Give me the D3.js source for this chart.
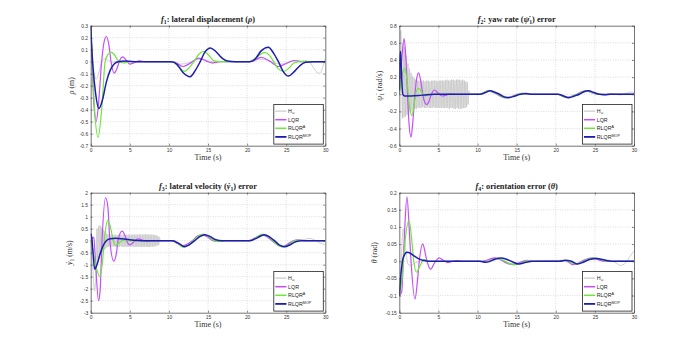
<!DOCTYPE html>
<html><head><meta charset="utf-8">
<script src="https://cdn.jsdelivr.net/npm/d3@7"></script>
<style>body{margin:0;background:#fff}svg{display:block}</style>
</head><body>
<svg id="c" width="700" height="352"></svg>
<script>
// ---------------- DATA ----------------
const timeTicks = [0, 5, 10, 15, 20, 25, 30];
const p1Ticks = [-0.7, -0.6, -0.5, -0.4, -0.3, -0.2, -0.1, 0, 0.1, 0.2, 0.3];
const p2Ticks = [-0.6, -0.4, -0.2, 0, 0.2, 0.4, 0.6, 0.8];
const p3Ticks = [-3, -2.5, -2, -1.5, -1, -0.5, 0, 0.5, 1, 1.5, 2];
const p4Ticks = [-0.15, -0.1, -0.05, 0, 0.05, 0.1, 0.15, 0.2];
const seriesNames = ["Hinf", "LQR", "RLQR^A", "RLQR^MOP"];

// f1: lateral displacement  [time (s), value (m)]
const p1Hinf = [[0,0.3],[0.2,0.05],[0.45,-0.1],[0.72,-0.147],[1.0,-0.1],[1.4,0],[1.8,0.025],[2.3,0.01],[2.8,-0.005],[3.5,0.005],[4.5,0],[10.5,0],[11.5,-0.02],[12.5,-0.01],[13.5,0.015],[14.3,0.02],[15.2,0.005],[16,0],[20.5,0],[21.5,0.02],[22.5,0.015],[23.5,-0.01],[24.3,-0.02],[25.2,-0.01],[26.3,0.01],[27,0.006],[27.5,0.01],[28.2,-0.02],[28.8,-0.08],[29.3,-0.097],[29.7,-0.04],[30,0.028]];
const p1Lqr = [[0,0.3],[0.15,0.05],[0.4,-0.35],[0.7,-0.5],[1.0,-0.35],[1.4,0],[1.7,0.16],[2.0,0.21],[2.3,0.15],[2.6,0],[3.0,-0.095],[3.4,-0.05],[3.7,0.01],[4.1,0.04],[4.5,0.015],[5.0,-0.02],[5.5,-0.01],[6.2,0.007],[7,0],[10.5,0],[11.8,-0.04],[12.8,-0.01],[13.8,0.03],[14.8,0.005],[15.5,-0.01],[16.5,0],[20.5,0],[21.8,0.036],[22.9,0.005],[24,-0.04],[25,-0.015],[26,0.01],[27,0],[30,0]];
const p1RlqrA = [[0,0.3],[0.2,0.02],[0.5,-0.4],[0.95,-0.63],[1.4,-0.4],[1.85,0],[2.2,0.06],[2.6,0.08],[3.0,0.06],[3.5,0.01],[4.2,-0.01],[5,0],[10.5,0],[11.2,-0.04],[12,-0.08],[12.6,-0.05],[13.2,0],[13.8,0.06],[14.4,0.085],[15.0,0.06],[15.7,0.01],[16.5,0],[20.3,0],[21.3,0.04],[22.2,0.078],[22.9,0.05],[23.4,0],[24,-0.06],[24.7,-0.08],[25.4,-0.05],[26,-0.01],[26.8,0],[30,0]];
const p1Mop = [[0,0.3],[0.15,0.1],[0.3,-0.05],[0.6,-0.25],[1.05,-0.39],[1.5,-0.32],[2.0,-0.17],[2.5,-0.07],[3.0,-0.02],[3.5,0],[4.5,0.005],[6,0],[10.3,0],[11,-0.02],[11.8,-0.09],[12.7,-0.125],[13.4,-0.07],[14.0,0],[14.6,0.08],[15.3,0.115],[16.0,0.085],[16.8,0.03],[17.5,0.005],[18.5,0],[20.3,0],[21,0.02],[21.8,0.09],[22.7,0.12],[23.4,0.07],[24,0],[24.6,-0.08],[25.3,-0.12],[26,-0.085],[26.8,-0.03],[27.5,-0.005],[28.5,0],[30,0]];

// f2: yaw rate error  [time (s), value (rad/s)]
const p2Hinf = [[0,0],[0.1,0.5],[0.2,0.75],[0.3,0.2],[0.4,-0.28],[0.5,0.6],[0.6,-0.27],[0.7,0.55],[0.8,-0.26],[0.9,0.45],[1.0,-0.24],[1.1,0.36],[1.2,-0.22],[1.3,0.3],[1.4,-0.2],[1.5,0.25],[1.6,-0.19],[1.7,0.21],[1.8,-0.18],[1.9,0.19],[2.0,-0.17],[2.1,0.17],[2.2,-0.17],[2.3,0.16],[2.4,-0.16],[2.5,0.16],[2.6,-0.16],[2.7,0.15],[2.8,-0.16],[2.9,0.16],[3.0,-0.15],[3.1,0.16],[3.2,-0.16],[3.3,0.15],[3.4,-0.16],[3.5,0.16],[3.6,-0.15],[3.7,0.16],[3.8,-0.16],[3.9,0.15],[4.0,-0.16],[4.1,0.16],[4.2,-0.16],[4.3,0.16],[4.4,-0.15],[4.5,0.16],[4.6,-0.16],[4.7,0.16],[4.8,-0.16],[4.9,0.15],[5.0,-0.16],[5.1,0.16],[5.2,-0.16],[5.3,0.16],[5.4,-0.16],[5.5,0.16],[5.6,-0.16],[5.7,0.16],[5.8,-0.16],[5.9,0.16],[6.0,-0.16],[6.1,0.17],[6.2,-0.16],[6.3,0.16],[6.4,-0.17],[6.5,0.16],[6.6,-0.16],[6.7,0.17],[6.8,-0.16],[6.9,0.17],[7.0,-0.17],[7.1,0.16],[7.2,-0.17],[7.3,0.17],[7.4,-0.16],[7.5,0.17],[7.6,-0.17],[7.7,0.17],[7.8,-0.17],[7.9,0.16],[8.0,-0.17],[8.1,0.17],[8.2,-0.16],[8.3,0.16],[8.4,-0.16],[8.5,0.15],[8.6,-0.15],[8.7,0.14],[8.8,-0.12],[8.9,0.04],[9.1,0],[10.3,0],[11.5,0.035],[12.8,0],[14,-0.035],[15.3,0],[16,0.01],[17,0],[20.3,0],[21.6,-0.035],[22.8,0],[24.1,0.035],[25.4,0],[26.4,0.01],[27.3,0.008],[28.2,-0.008],[29,0.01],[29.5,0.027],[30,0.02]];
const p2Lqr = [[0,0],[0.3,0.4],[0.62,0.65],[0.85,0.4],[1.05,0],[1.25,-0.35],[1.5,-0.5],[1.75,-0.3],[2.0,0],[2.2,0.17],[2.47,0.25],[2.75,0.15],[3.0,0],[3.2,-0.08],[3.5,-0.12],[3.8,-0.08],[4.1,0],[4.5,0.05],[4.9,0.02],[5.5,-0.02],[6.0,-0.01],[6.5,0.005],[7.2,0],[10.2,0],[10.8,0.02],[11.3,0.04],[12,0.02],[12.5,0],[13.1,-0.03],[13.7,-0.04],[14.5,-0.02],[15.1,0],[15.7,0.01],[16.5,0],[20.2,0],[20.8,-0.02],[21.4,-0.04],[22.1,-0.02],[22.7,0],[23.3,0.03],[23.9,0.04],[24.6,0.02],[25.3,0],[26,-0.005],[26.8,0],[30,0]];
const p2RlqrA = [[0,0],[0.3,0.2],[0.7,0.3],[1.0,0.15],[1.25,-0.1],[1.6,-0.25],[1.9,-0.12],[2.15,0.03],[2.5,0.07],[2.9,0.02],[3.3,-0.02],[3.8,-0.005],[4.5,0],[10.2,0],[10.8,0.02],[11.4,0.04],[12.1,0.02],[12.6,0],[13.2,-0.03],[13.8,-0.04],[14.6,-0.02],[15.2,0],[15.8,0.01],[16.6,0],[20.2,0],[20.8,-0.02],[21.5,-0.04],[22.2,-0.02],[22.8,0],[23.4,0.03],[24,0.04],[24.7,0.02],[25.4,0],[26,-0.005],[26.8,0],[30,0]];
const p2Mop = [[0,0.05],[0.1,0.45],[0.17,0.5],[0.3,0.2],[0.45,0],[0.7,-0.02],[1.5,-0.02],[2.5,-0.015],[3.5,-0.005],[4.5,0],[10.3,0],[11,0.02],[11.6,0.04],[12.3,0.02],[12.8,0],[13.4,-0.03],[14,-0.04],[14.8,-0.02],[15.5,0],[16.2,0.008],[17,0],[20.3,0],[21,-0.02],[21.7,-0.04],[22.4,-0.02],[23,0],[23.6,0.03],[24.2,0.04],[24.9,0.02],[25.6,0],[26.3,-0.005],[27,0],[30,0]];

// f3: lateral velocity error  [time (s), value (m/s)]
const p3Hinf = [[0,0],[0.2,-0.8],[0.5,-2.1],[0.7,-1.0],[0.8,0.5],[0.9,-0.8],[1.0,0.6],[1.1,-0.7],[1.2,0.64],[1.3,-0.6],[1.4,0.55],[1.5,-0.47],[1.6,0.45],[1.7,-0.4],[1.8,0.38],[1.9,-0.33],[2.0,0.3],[2.1,-0.28],[2.2,0.27],[2.3,-0.26],[2.4,0.26],[2.5,-0.25],[2.6,0.25],[2.7,-0.25],[2.8,0.24],[2.9,-0.25],[3.0,0.25],[3.1,-0.24],[3.2,0.25],[3.3,-0.25],[3.4,0.24],[3.5,-0.25],[3.6,0.25],[3.7,-0.25],[3.8,0.25],[3.9,-0.24],[4.0,0.25],[4.1,-0.25],[4.2,0.25],[4.3,-0.25],[4.4,0.24],[4.5,-0.25],[4.6,0.25],[4.7,-0.25],[4.8,0.25],[4.9,-0.25],[5.0,0.25],[5.1,-0.25],[5.2,0.25],[5.3,-0.25],[5.4,0.25],[5.5,-0.25],[5.6,0.26],[5.7,-0.25],[5.8,0.25],[5.9,-0.26],[6.0,0.25],[6.1,-0.25],[6.2,0.26],[6.3,-0.25],[6.4,0.26],[6.5,-0.26],[6.6,0.25],[6.7,-0.26],[6.8,0.26],[6.9,-0.25],[7.0,0.26],[7.1,-0.26],[7.2,0.26],[7.3,-0.26],[7.4,0.25],[7.5,-0.26],[7.6,0.26],[7.7,-0.25],[7.8,0.25],[7.9,-0.25],[8.0,0.25],[8.1,-0.24],[8.2,0.24],[8.3,-0.23],[8.4,0.22],[8.5,-0.21],[8.6,0.2],[8.7,-0.18],[8.8,0.15],[8.9,-0.05],[9.1,0],[10.5,0],[11.2,-0.12],[11.9,-0.24],[12.6,-0.15],[13.2,0],[13.9,0.2],[14.5,0.25],[15.2,0.15],[15.8,0],[16.5,-0.03],[17.3,0],[20.3,0],[21.2,0.13],[22,0.24],[22.7,0.15],[23.3,0],[24,-0.18],[24.7,-0.24],[25.4,-0.14],[26,0],[26.6,0.02],[27.3,0.05],[28,0.1],[28.6,0.04],[29.2,-0.08],[30,-0.17]];
const p3Lqr = [[0,0],[0.2,0.1],[0.4,0.14],[0.6,-0.8],[1.0,-2.5],[1.2,-2.1],[1.45,0],[1.9,1.79],[2.2,1.4],[2.45,0],[2.95,-0.85],[3.3,-0.5],[3.5,0],[4.0,0.4],[4.4,0.2],[4.6,0],[5.0,-0.17],[5.5,-0.05],[6.1,0.08],[6.7,0.02],[7.2,-0.02],[8,0],[10.4,0],[11.1,-0.12],[11.7,-0.22],[12.3,-0.15],[13,0],[13.7,0.2],[14.3,0.24],[15,0.14],[15.6,0],[16.2,-0.03],[17,0],[20.2,0],[21.1,0.13],[21.9,0.25],[22.6,0.15],[23.2,0],[23.9,-0.18],[24.5,-0.25],[25.2,-0.14],[25.9,0],[26.5,0.04],[27.3,0],[30,0]];
const p3RlqrA = [[0,0],[0.3,-0.4],[0.7,-1.1],[1.2,-1.5],[1.5,-0.9],[1.8,0.2],[2.17,0.85],[2.5,0.6],[2.9,0],[3.2,-0.2],[3.6,-0.1],[4.0,0],[4.5,0.03],[5.5,0],[10.5,0],[11.2,-0.12],[11.8,-0.27],[12.5,-0.17],[13.1,0],[13.8,0.2],[14.4,0.27],[15.1,0.17],[15.8,0],[16.4,-0.04],[17.2,0],[20.3,0],[21.2,0.14],[22,0.27],[22.7,0.16],[23.3,0],[24,-0.2],[24.6,-0.27],[25.3,-0.16],[26,0],[26.6,0.03],[27.4,0],[30,0]];
const p3Mop = [[0,0.3],[0.15,0.1],[0.3,-0.5],[0.5,-1.19],[0.8,-1.0],[1.2,-0.55],[1.6,-0.2],[2.0,0],[2.5,0.08],[3.2,0.1],[4.0,0.08],[5,0.04],[6,0.01],[7,0],[10.5,0],[11.3,-0.12],[12,-0.25],[12.6,-0.17],[13.3,0],[14,0.18],[14.6,0.25],[15.3,0.17],[16,0.04],[16.8,0],[20.4,0],[21.3,0.12],[22.2,0.25],[22.9,0.15],[23.5,0],[24.1,-0.17],[24.8,-0.25],[25.5,-0.17],[26.2,-0.04],[27,0],[30,0]];

// f4: orientation error  [time (s), value (rad)]
const p4Hinf = [[0,-0.1],[0.2,-0.02],[0.5,0.095],[0.8,0.04],[1.1,-0.008],[1.4,-0.012],[2,-0.005],[3,0],[10.5,0],[12,0.008],[13,0.005],[14.5,-0.008],[15.5,-0.003],[17,0],[21,0.003],[22.5,-0.008],[24.5,0.006],[26,0.005],[27,0.003],[27.7,-0.005],[28.3,-0.012],[28.9,-0.005],[29.5,0.015],[30,0.03]];
const p4Lqr = [[0,-0.1],[0.3,-0.09],[0.6,0.05],[0.98,0.188],[1.3,0.08],[1.5,0],[2.0,-0.11],[2.35,-0.05],[2.55,0],[3.0,0.051],[3.35,0.02],[3.55,0],[4.0,-0.023],[4.5,-0.005],[5.1,0.01],[5.6,0.003],[6.2,-0.004],[6.8,0],[7.3,0.002],[8,0],[10.5,0],[11.2,0.003],[12.2,0.01],[13,0.004],[13.6,-0.004],[14.6,-0.01],[15.4,-0.004],[16.3,0.003],[17.2,0],[20.5,0],[21.2,0.002],[22.2,-0.01],[23,-0.004],[23.7,0.004],[24.7,0.01],[25.5,0.004],[26.3,0],[30,0]];
const p4RlqrA = [[0,-0.1],[0.35,-0.05],[0.7,0.05],[1.24,0.119],[1.6,0.06],[1.85,0],[2.2,-0.032],[2.6,-0.015],[3.2,0.005],[3.8,0],[10.5,0],[11.2,-0.002],[11.8,0.004],[12.5,0.008],[13.2,0.004],[13.8,-0.004],[14.8,-0.01],[15.6,-0.005],[16.3,0.001],[17,0],[20.5,0],[21.3,0.002],[21.8,-0.002],[22.5,-0.008],[23.3,-0.003],[24,0.005],[25,0.01],[25.8,0.005],[26.5,0],[30,0]];
const p4Mop = [[0,-0.1],[0.2,-0.04],[0.5,0.01],[0.98,0.026],[1.5,0.022],[2,0.014],[2.5,0.007],[3,0.003],[3.5,0.001],[4,0],[10.3,0],[11,-0.003],[11.5,-0.001],[12.2,0.006],[13,0.0094],[13.7,0.006],[14.3,0],[15.3,-0.008],[16.2,-0.003],[17,0],[20.5,0],[21.2,0.003],[22,0],[22.8,-0.008],[23.6,-0.002],[24.3,0.005],[25.2,0.008],[26,0.005],[26.8,0.001],[27.5,0],[30,0]];

// ---------------- STYLE / LAYOUT ----------------
const colors = {Hinf: "#c4c4c4", LQR: "#c44dfb", "RLQR^A": "#6fe63c", "RLQR^MOP": "#1d1db2"};
const widths = {Hinf: 0.8, LQR: 1.2, "RLQR^A": 1.2, "RLQR^MOP": 1.5};
const SANS = "'Liberation Sans', Arial, Helvetica, sans-serif";
const SERIF = "'Liberation Serif', 'DejaVu Serif', 'Times New Roman', serif";

const panels = [
  {left: 90.7, top: 25.7, w: 234.6, h: 120, ydom: [-0.7, 0.3], yticks: p1Ticks, ylabX: 74,
   series: [p1Hinf, p1Lqr, p1RlqrA, p1Mop],
   title: [["f", "it"], ["1", "sub"], [": lateral displacement (", ""], ["ρ", "it"], [")", ""]],
   ylab: [["ρ", "it"], [" (m)", ""]]},
  {left: 399.3, top: 25.7, w: 234.7, h: 120, ydom: [-0.6, 0.8], yticks: p2Ticks, ylabX: 382,
   series: [p2Hinf, p2Lqr, p2RlqrA, p2Mop],
   title: [["f", "it"], ["2", "sub"], [": yaw rate (", ""], ["ψ\u0307", "it"], ["1", "sub"], [") error", ""]],
   ylab: [["ψ\u0307", "it"], ["1", "sub"], [" (rad/s)", ""]]},
  {left: 90.7, top: 192.7, w: 234.6, h: 120, ydom: [-3, 2], yticks: p3Ticks, ylabX: 72,
   series: [p3Hinf, p3Lqr, p3RlqrA, p3Mop],
   title: [["f", "it"], ["3", "sub"], [": lateral velocity (", ""], ["y\u0307", "it"], ["1", "sub"], [") error", ""]],
   ylab: [["y\u0307", "it"], ["1", "sub"], [" (m/s)", ""]]},
  {left: 399.3, top: 192.7, w: 234.7, h: 120, ydom: [-0.15, 0.2], yticks: p4Ticks, ylabX: 377,
   series: [p4Hinf, p4Lqr, p4RlqrA, p4Mop],
   title: [["f", "it"], ["4", "sub"], [": orientation error (", ""], ["θ", "it"], [")", ""]],
   ylab: [["θ", "it"], [" (rad)", ""]]}
];

const svg = d3.select("#c");

function richText(sel, parts, size) {
  parts.forEach((p, i) => {
    const [txt, kind] = p;
    const prev = i > 0 ? parts[i - 1][1] : "";
    const t = sel.append("tspan").text(txt);
    if (kind === "it") t.attr("font-style", "italic");
    if (kind === "sub") t.attr("font-size", size * 0.7).attr("dy", size * 0.25);
    if (kind === "sup") t.attr("font-size", size * 0.7).attr("dy", -size * 0.4);
    if (prev === "sub" && kind !== "sub") t.attr("dy", -size * 0.25);
    if (prev === "sup" && kind !== "sup") t.attr("dy", size * 0.4);
  });
}

const fmt = d => d === 0 ? "0" : String(+d.toFixed(2));

panels.forEach((p, pi) => {
  const x = d3.scaleLinear().domain([0, 30]).range([p.left, p.left + p.w]);
  const y = d3.scaleLinear().domain(p.ydom).range([p.top + p.h, p.top]);
  const g = svg.append("g");

  // grid
  g.append("g").selectAll("line").data(timeTicks.slice(1, -1)).join("line")
    .attr("x1", d => x(d)).attr("x2", d => x(d)).attr("y1", p.top).attr("y2", p.top + p.h)
    .attr("stroke", "#b8b8b8").attr("stroke-width", 0.6).attr("stroke-dasharray", "0.8,1.6");
  g.append("g").selectAll("line").data(p.yticks.slice(1, -1)).join("line")
    .attr("y1", d => y(d)).attr("y2", d => y(d)).attr("x1", p.left).attr("x2", p.left + p.w)
    .attr("stroke", "#b8b8b8").attr("stroke-width", 0.6).attr("stroke-dasharray", "0.8,1.6");

  // series
  const clipId = "clip" + pi;
  g.append("clipPath").attr("id", clipId).append("rect")
    .attr("x", p.left).attr("y", p.top).attr("width", p.w).attr("height", p.h);
  const line = d3.line().x(d => x(d[0])).y(d => y(d[1])).curve(d3.curveMonotoneX);
  p.series.forEach((s, si) => {
    const name = seriesNames[si];
    g.append("path").attr("d", line(s)).attr("fill", "none")
      .attr("clip-path", `url(#${clipId})`)
      .attr("stroke", colors[name]).attr("stroke-width", widths[name])
      .attr("stroke-linejoin", "round");
  });

  // axes
  const axStyle = a => {
    a.selectAll("path").attr("stroke", "#3a3a3a").attr("stroke-width", 0.7);
    a.selectAll("line").attr("stroke", "#3a3a3a").attr("stroke-width", 0.6);
    a.selectAll("text").attr("font-family", SANS).attr("font-size", 4.9).attr("fill", "#333");
  };
  g.append("g").attr("transform", `translate(0,${p.top + p.h})`)
    .call(d3.axisBottom(x).tickValues(timeTicks).tickFormat(fmt).tickSizeInner(-2).tickSizeOuter(0).tickPadding(3))
    .call(axStyle);
  g.append("g").attr("transform", `translate(0,${p.top})`)
    .call(d3.axisTop(x).tickValues(timeTicks).tickFormat("").tickSizeInner(-2).tickSizeOuter(0))
    .call(axStyle);
  g.append("g").attr("transform", `translate(${p.left},0)`)
    .call(d3.axisLeft(y).tickValues(p.yticks).tickFormat(fmt).tickSizeInner(-2).tickSizeOuter(0).tickPadding(2.6))
    .call(axStyle);
  g.append("g").attr("transform", `translate(${p.left + p.w},0)`)
    .call(d3.axisRight(y).tickValues(p.yticks).tickFormat("").tickSizeInner(-2).tickSizeOuter(0))
    .call(axStyle);
  g.selectAll(".domain").attr("fill", "none");

  // title
  const tt = g.append("text").attr("x", p.left + p.w / 2).attr("y", p.top - 4.2)
    .attr("text-anchor", "middle").attr("font-family", SERIF).attr("font-weight", "bold")
    .attr("font-size", 8.3).attr("fill", "#222");
  richText(tt, p.title, 8.3);

  // x label
  g.append("text").attr("x", p.left + p.w / 2).attr("y", p.top + p.h + 13.8)
    .attr("text-anchor", "middle").attr("font-family", SERIF).attr("font-size", 8)
    .attr("fill", "#333").text("Time (s)");

  // y label
  const yl = g.append("text")
    .attr("transform", `translate(${p.ylabX},${p.top + p.h / 2}) rotate(-90)`)
    .attr("text-anchor", "middle").attr("font-family", SERIF).attr("font-size", 7.8)
    .attr("fill", "#333");
  richText(yl, p.ylab, 7.8);

  // legend
  const lw = 49.5, lh = 39.7;
  const lx = p.left + p.w - 2 - lw, ly = p.top + p.h - 1.6 - lh;
  const lg = g.append("g");
  lg.append("rect").attr("x", lx).attr("y", ly).attr("width", lw).attr("height", lh)
    .attr("fill", "#fff").attr("stroke", "#222").attr("stroke-width", 0.8);
  const labels = [
    [["H", ""], ["∞", "sub"]],
    [["LQR", ""]],
    [["RLQR", ""], ["A", "sup"]],
    [["RLQR", ""], ["MOP", "sup"]]
  ];
  seriesNames.forEach((name, i) => {
    const ry = ly + 6.7 + i * 8.6;
    lg.append("line").attr("x1", lx + 1.5).attr("x2", lx + 12.7).attr("y1", ry).attr("y2", ry)
      .attr("stroke", colors[name]).attr("stroke-width", widths[name] + 0.3);
    const t = lg.append("text").attr("x", lx + 14.3).attr("y", ry + 1.9)
      .attr("font-family", SANS).attr("font-size", 5.3).attr("fill", "#222");
    richText(t, labels[i], 5.3);
  });
});
</script>
</body></html>
